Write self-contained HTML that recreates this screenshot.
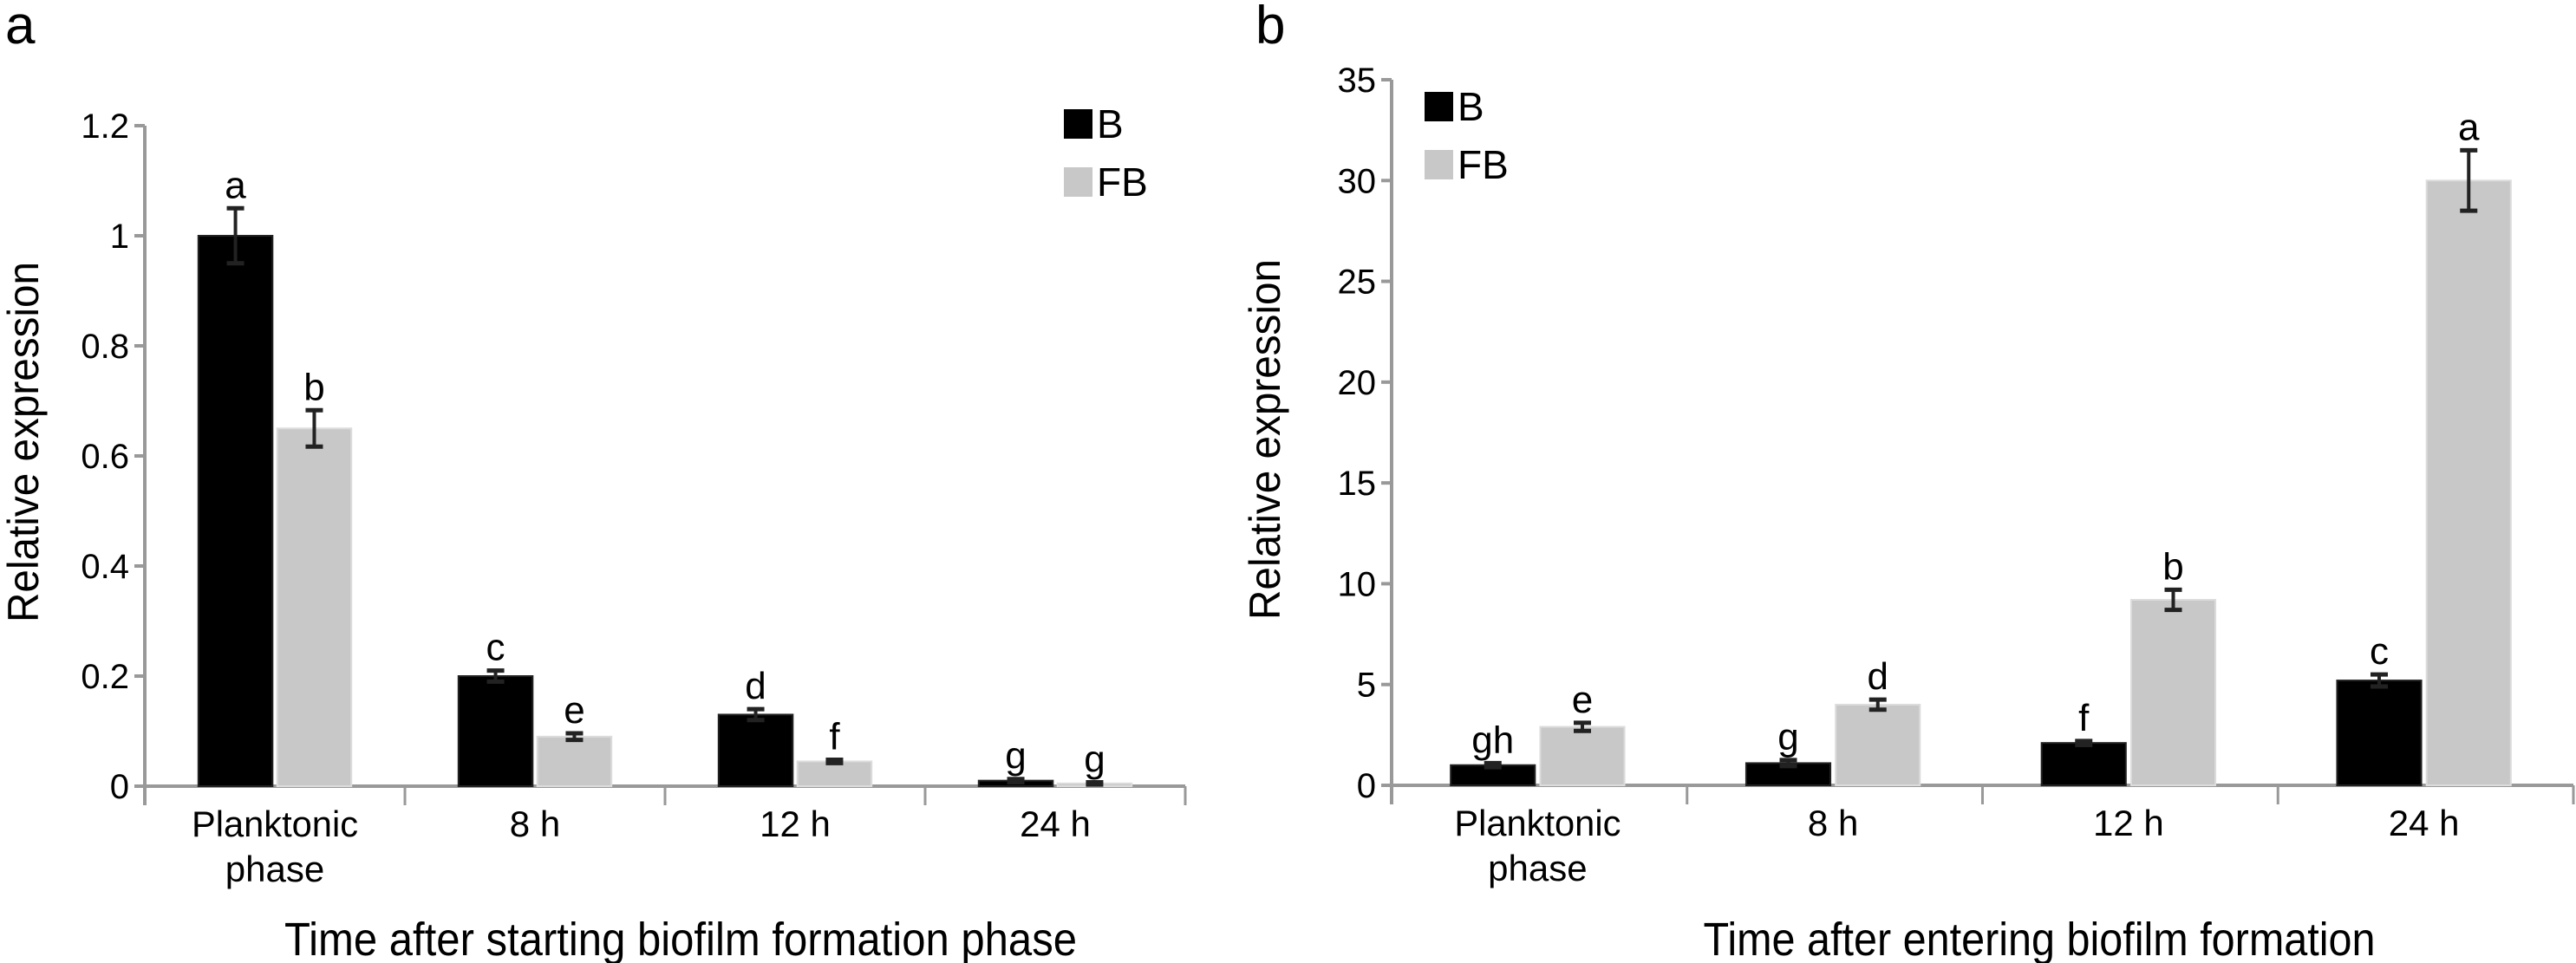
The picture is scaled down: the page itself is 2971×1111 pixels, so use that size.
<!DOCTYPE html>
<html><head><meta charset="utf-8"><style>
html,body{margin:0;padding:0;background:#fff;}
svg{display:block;font-family:"Liberation Sans",sans-serif;}
</style></head><body>
<svg id="chart" width="2971" height="1111" viewBox="0 0 2971 1111" xmlns="http://www.w3.org/2000/svg"></svg>
<script>
const categories = ["Planktonic|phase","8 h","12 h","24 h"];
const seriesNames = ["B","FB"];
const aB = [1.0, 0.2, 0.13, 0.01];
const aFB = [0.65, 0.09, 0.045, 0.005];
const aBerr = [0.05, 0.01, 0.01, 0.003];
const aFBerr = [0.033, 0.006, 0.003, 0.002];
const aBlet = ["a","c","d","g"];
const aFBlet = ["b","e","f","g"];
const aTicks = [0, 0.2, 0.4, 0.6, 0.8, 1, 1.2];
const aTickLabels = ["0","0.2","0.4","0.6","0.8","1","1.2"];
const bB = [1.0, 1.1, 2.1, 5.2];
const bFB = [2.9, 4.0, 9.2, 30.0];
const bBerr = [0.1, 0.15, 0.1, 0.3];
const bFBerr = [0.2, 0.25, 0.5, 1.5];
const bBlet = ["gh","g","f","c"];
const bFBlet = ["e","d","b","a"];
const bTicks = [0,5,10,15,20,25,30,35];
const bTickLabels = ["0","5","10","15","20","25","30","35"];

const svg = document.getElementById('chart');
const NS = 'http://www.w3.org/2000/svg';
function mk(tag, attrs, parent, text){
  const e = document.createElementNS(NS, tag);
  for (const k in attrs) e.setAttribute(k, attrs[k]);
  if (text !== undefined) e.textContent = text;
  (parent||svg).appendChild(e);
  return e;
}

function panel(cfg){
  const g = mk('g', {});
  
  
  const y = v => cfg.y0 - (v / cfg.ymax) * (cfg.y0 - cfg.yTop);
  const catW = (cfg.x1 - cfg.x0) / categories.length;
  // panel letter
  const pl = mk('text', {x: cfg.letterX, y: 50, 'font-size': 62, fill: '#000'}, g, cfg.letter);
  
  
  // y axis
  const ya = mk('line', {x1: cfg.x0, y1: cfg.yTop, x2: cfg.x0, y2: cfg.y0 + 22, stroke: '#999', 'stroke-width': 4}, g);
  
  
  cfg.ticks.forEach((t, i) => {
    const tk = mk('line', {x1: cfg.x0 - 12, y1: y(t), x2: cfg.x0, y2: y(t), stroke: '#999', 'stroke-width': 4}, g);
    
    
    const tl = mk('text', {x: cfg.x0 - 18, y: y(t) + 14, 'font-size': 40, 'text-anchor': 'end', fill: '#000'}, g, cfg.tickLabels[i]);
    
    
  });
  // x axis
  const xa = mk('line', {x1: cfg.x0, y1: cfg.y0, x2: cfg.x1, y2: cfg.y0, stroke: '#999', 'stroke-width': 4}, g);
  
  
  for (let i = 1; i <= categories.length; i++) {
    const sx = cfg.x0 + i * catW;
    const st = mk('line', {x1: sx, y1: cfg.y0, x2: sx, y2: cfg.y0 + 22, stroke: '#999', 'stroke-width': 3}, g);
    
    
  }
  const bw = catW * 0.285, gap = catW * 0.009;
  categories.forEach((c, i) => {
    const cx = cfg.x0 + (i + 0.5) * catW + cfg.shift;
    const lines = c.split('|');
    lines.forEach((ln, j) => {
      const t = mk('text', {x: cx, y: cfg.y0 + 58 + j * 52, 'font-size': 42, 'text-anchor': 'middle', fill: '#000'}, g, ln);
      if (ln === 'Planktonic') { t.setAttribute('textLength', 192); t.setAttribute('lengthAdjust', 'spacingAndGlyphs'); }
      
      
    });
    const sets = [
      {v: cfg.B[i], e: cfg.Berr[i], l: cfg.Blet[i], x: cx - gap - bw, fill: '#000', stroke: '#222', name: 'bar-b-' + i},
      {v: cfg.FB[i], e: cfg.FBerr[i], l: cfg.FBlet[i], x: cx + gap, fill: '#c8c8c8', stroke: '#dcdcdc', name: 'bar-fb-' + i}
    ];
    sets.forEach(s => {
      const top = y(s.v);
      const r = mk('rect', {x: s.x, y: top, width: bw, height: Math.max(cfg.y0 - top, 3), fill: s.fill, stroke: s.stroke, 'stroke-width': 2}, g);
      
      
      const mx = s.x + bw / 2;
      const et = y(s.v + s.e), eb = y(s.v - s.e);
      const eg = mk('g', {stroke: '#222', 'stroke-width': 4}, g);
      
      
      mk('line', {x1: mx, y1: et, x2: mx, y2: eb}, eg);
      mk('line', {x1: mx - 10, y1: et, x2: mx + 10, y2: et, 'stroke-width': 5}, eg);
      mk('line', {x1: mx - 10, y1: eb, x2: mx + 10, y2: eb, 'stroke-width': 5}, eg);
      const lt = mk('text', {x: mx, y: et - 12, 'font-size': 44, 'text-anchor': 'middle', fill: '#000'}, g, s.l);
      
      
    });
  });
  // legend
  const colors = ['#000', '#c8c8c8'];
  seriesNames.forEach((n, i) => {
    const lg = mk('g', {}, g);
    
    
    mk('rect', {x: cfg.legX, y: cfg.legY + i * 67, width: 33, height: 34, fill: colors[i]}, lg);
    mk('text', {x: cfg.legX + 38, y: cfg.legY + i * 67 + 33, 'font-size': 46, fill: '#000'}, lg, n);
  });
  // axis titles
  const yt = mk('text', {x: 0, y: 0, 'font-size': 50, 'text-anchor': 'middle', fill: '#000', transform: `translate(${cfg.yTitleX},${cfg.yTitleY}) rotate(-90)`, textLength: 416, lengthAdjust: 'spacingAndGlyphs'}, g, 'Relative expression');
  
  
  const xt = mk('text', {x: cfg.xTitleX, y: 1102, 'font-size': 54, 'text-anchor': 'middle', fill: '#000', textLength: cfg.xTitleW, lengthAdjust: 'spacingAndGlyphs'}, g, cfg.xTitle);
  
  
}

panel({name: 'panel-a', letter: 'a', letterX: 6, x0: 167, x1: 1367, y0: 907, yTop: 145, ymax: 1.2, shift: 0,
  ticks: aTicks, tickLabels: aTickLabels, B: aB, FB: aFB, Berr: aBerr, FBerr: aFBerr, Blet: aBlet, FBlet: aFBlet,
  legX: 1227, legY: 126, yTitleX: 44, yTitleY: 510, xTitleX: 785, xTitleW: 914, xTitle: 'Time after starting biofilm formation phase'});
panel({name: 'panel-b', letter: 'b', letterX: 1448, x0: 1605, x1: 2968, y0: 906, yTop: 92, ymax: 35, shift: -2,
  ticks: bTicks, tickLabels: bTickLabels, B: bB, FB: bFB, Berr: bBerr, FBerr: bFBerr, Blet: bBlet, FBlet: bFBlet,
  legX: 1643, legY: 106, yTitleX: 1476, yTitleY: 507, xTitleX: 2352, xTitleW: 775, xTitle: 'Time after entering biofilm formation'});
</script>
</body></html>
